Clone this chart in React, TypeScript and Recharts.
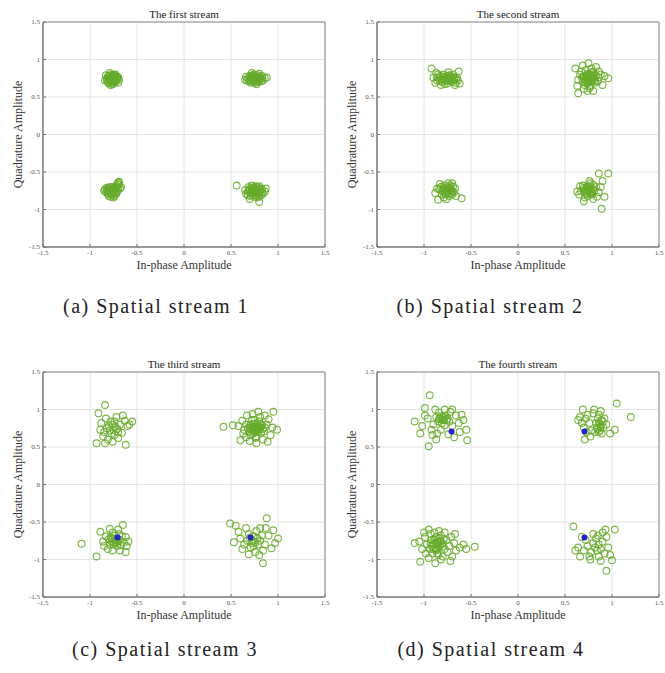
import { ScatterChart, Scatter, XAxis, YAxis, CartesianGrid, ReferenceArea } from 'recharts';

type Pt = [number, number];

const serif = "'Liberation Serif', 'Times New Roman', serif";
const axisTicks = [-1.5, -1, -0.5, 0, 0.5, 1, 1.5];
const titles = ['The first stream', 'The second stream', 'The third stream', 'The fourth stream'];
const captions = ['(a) Spatial stream 1', '(b) Spatial stream 2', '(c) Spatial stream 3', '(d) Spatial stream 4'];

// received symbols
const stream1: Pt[] = [
  [-0.80, 0.78], [-0.76, 0.80], [-0.73, 0.77], [-0.79, 0.72], [-0.75, 0.73], [-0.82, 0.75], [-0.71, 0.74], [-0.77, 0.70],
  [-0.74, 0.69], [-0.81, 0.70], [-0.78, 0.76], [-0.72, 0.71], [-0.69, 0.73], [-0.76, 0.67], [-0.83, 0.79], [-0.79, 0.82],
  [-0.74, 0.75], [-0.70, 0.69], [-0.80, 0.68], [-0.77, 0.74], [-0.73, 0.80], [-0.84, 0.72], [-0.75, 0.78], [-0.71, 0.77], [-0.78, 0.66],
  [-0.78, 0.73], [-0.76, 0.76], [-0.74, 0.72], [-0.79, 0.79], [-0.72, 0.75], [-0.81, 0.77], [-0.77, 0.71], [-0.75, 0.70],
  [-0.73, 0.74], [-0.80, 0.74], [-0.76, 0.78], [-0.82, 0.72], [-0.70, 0.76], [-0.78, 0.69], [-0.74, 0.79],
  [0.70, 0.78], [0.74, 0.80], [0.78, 0.77], [0.72, 0.72], [0.76, 0.73], [0.68, 0.75], [0.81, 0.74], [0.74, 0.70],
  [0.79, 0.70], [0.66, 0.77], [0.83, 0.78], [0.71, 0.69], [0.77, 0.67], [0.73, 0.76], [0.80, 0.81], [0.86, 0.75],
  [0.69, 0.71], [0.75, 0.77], [0.82, 0.71], [0.72, 0.82], [0.65, 0.73], [0.78, 0.74], [0.84, 0.72], [0.76, 0.69], [0.88, 0.76],
  [0.74, 0.74], [0.76, 0.76], [0.72, 0.75], [0.79, 0.76], [0.77, 0.71], [0.70, 0.73], [0.81, 0.77], [0.73, 0.79],
  [0.75, 0.71], [0.78, 0.79], [0.71, 0.76], [0.83, 0.75], [0.67, 0.72], [0.80, 0.72], [0.74, 0.78],
  [-0.80, -0.72], [-0.76, -0.70], [-0.73, -0.73], [-0.79, -0.77], [-0.75, -0.78], [-0.82, -0.74], [-0.71, -0.76], [-0.77, -0.80],
  [-0.74, -0.82], [-0.81, -0.79], [-0.78, -0.74], [-0.72, -0.70], [-0.69, -0.67], [-0.70, -0.72], [-0.84, -0.73], [-0.76, -0.75],
  [-0.73, -0.79], [-0.80, -0.82], [-0.69, -0.63], [-0.67, -0.70], [-0.83, -0.77], [-0.75, -0.73], [-0.78, -0.83], [-0.71, -0.66], [-0.85, -0.75],
  [-0.77, -0.76], [-0.75, -0.74], [-0.79, -0.74], [-0.73, -0.76], [-0.78, -0.79], [-0.81, -0.76], [-0.74, -0.71], [-0.71, -0.69],
  [-0.76, -0.81], [-0.82, -0.71], [-0.72, -0.79], [-0.79, -0.70], [-0.68, -0.72], [-0.70, -0.64], [-0.75, -0.84],
  [0.70, -0.73], [0.74, -0.71], [0.78, -0.72], [0.72, -0.78], [0.76, -0.77], [0.68, -0.76], [0.81, -0.75], [0.74, -0.81],
  [0.79, -0.80], [0.66, -0.79], [0.83, -0.73], [0.71, -0.82], [0.77, -0.84], [0.73, -0.75], [0.80, -0.69], [0.86, -0.76],
  [0.69, -0.70], [0.75, -0.74], [0.82, -0.81], [0.72, -0.68], [0.65, -0.74], [0.78, -0.78], [0.84, -0.79], [0.76, -0.69],
  [0.56, -0.68], [0.80, -0.90], [0.70, -0.86], [0.87, -0.72],
  [0.75, -0.76], [0.73, -0.73], [0.77, -0.74], [0.79, -0.77], [0.71, -0.79], [0.74, -0.78], [0.81, -0.72], [0.76, -0.81],
  [0.69, -0.74], [0.78, -0.70], [0.83, -0.77], [0.72, -0.71], [0.77, -0.82], [0.68, -0.81], [0.80, -0.83],
];

const stream2: Pt[] = [
  [-0.90, 0.76], [-0.86, 0.72], [-0.83, 0.78], [-0.80, 0.70], [-0.77, 0.76], [-0.74, 0.72], [-0.71, 0.78], [-0.68, 0.73],
  [-0.66, 0.69], [-0.88, 0.69], [-0.84, 0.74], [-0.79, 0.80], [-0.75, 0.68], [-0.72, 0.74], [-0.69, 0.80], [-0.65, 0.76],
  [-0.63, 0.84], [-0.92, 0.88], [-0.81, 0.73], [-0.76, 0.71], [-0.73, 0.79], [-0.70, 0.70], [-0.67, 0.66], [-0.85, 0.80],
  [-0.78, 0.67], [-0.64, 0.72], [-0.82, 0.66], [-0.87, 0.82], [-0.74, 0.83], [-0.62, 0.68],
  [-0.79, 0.74], [-0.75, 0.75], [-0.71, 0.72], [-0.83, 0.71], [-0.77, 0.73], [-0.73, 0.76], [-0.68, 0.76], [-0.86, 0.76],
  [-0.80, 0.77], [-0.70, 0.74], [-0.76, 0.78], [-0.66, 0.74],
  [0.70, 0.78], [0.74, 0.81], [0.78, 0.77], [0.72, 0.72], [0.76, 0.73], [0.68, 0.75], [0.81, 0.74], [0.74, 0.68],
  [0.79, 0.70], [0.66, 0.80], [0.83, 0.79], [0.71, 0.66], [0.77, 0.64], [0.73, 0.76], [0.80, 0.84], [0.86, 0.76],
  [0.69, 0.70], [0.75, 0.77], [0.82, 0.69], [0.72, 0.86], [0.64, 0.73], [0.78, 0.74], [0.85, 0.71], [0.76, 0.62],
  [0.88, 0.80], [0.75, 0.95], [0.64, 0.55], [0.96, 0.75], [0.61, 0.88], [0.80, 0.58], [0.90, 0.66], [0.67, 0.84],
  [0.83, 0.90], [0.70, 0.61], [0.78, 0.88], [0.92, 0.78], [0.63, 0.65], [0.74, 0.58], [0.86, 0.84], [0.69, 0.92],
  [0.75, 0.74], [0.73, 0.79], [0.77, 0.70], [0.79, 0.75], [0.71, 0.74], [0.76, 0.80], [0.80, 0.78], [0.72, 0.69],
  [0.78, 0.82], [0.74, 0.71], [0.69, 0.77], [0.82, 0.72],
  [-0.82, -0.70], [-0.78, -0.68], [-0.74, -0.72], [-0.80, -0.76], [-0.76, -0.77], [-0.84, -0.73], [-0.71, -0.74], [-0.77, -0.80],
  [-0.73, -0.82], [-0.81, -0.80], [-0.69, -0.69], [-0.72, -0.68], [-0.68, -0.77], [-0.86, -0.72], [-0.75, -0.75], [-0.79, -0.71],
  [-0.70, -0.80], [-0.85, -0.87], [-0.60, -0.85], [-0.88, -0.78], [-0.66, -0.82], [-0.79, -0.84], [-0.83, -0.66], [-0.74, -0.65],
  [-0.67, -0.72], [-0.76, -0.86], [-0.70, -0.65],
  [-0.76, -0.73], [-0.73, -0.75], [-0.78, -0.78], [-0.71, -0.78], [-0.75, -0.70], [-0.80, -0.74], [-0.72, -0.71], [-0.77, -0.74],
  [-0.70, -0.76], [-0.74, -0.79],
  [0.70, -0.71], [0.74, -0.69], [0.78, -0.72], [0.72, -0.78], [0.76, -0.77], [0.67, -0.75], [0.81, -0.75], [0.74, -0.82],
  [0.79, -0.80], [0.65, -0.80], [0.83, -0.70], [0.71, -0.84], [0.77, -0.65], [0.73, -0.75], [0.80, -0.67], [0.86, -0.77],
  [0.69, -0.68], [0.75, -0.73], [0.84, -0.83], [0.66, -0.69], [0.86, -0.52], [0.96, -0.52], [0.89, -0.99], [0.92, -0.83],
  [0.90, -0.62], [0.63, -0.76], [0.80, -0.86], [0.88, -0.70], [0.76, -0.62], [0.70, -0.89],
  [0.75, -0.75], [0.72, -0.73], [0.78, -0.76], [0.74, -0.71], [0.77, -0.79], [0.71, -0.76], [0.80, -0.73], [0.73, -0.79],
  [0.76, -0.69], [0.79, -0.78],
];

const stream3: Pt[] = [
  [-0.84, 1.06], [-0.93, 0.55], [-0.62, 0.53], [-0.91, 0.95], [-0.65, 0.92], [-0.55, 0.84], [-0.80, 0.78], [-0.76, 0.80],
  [-0.73, 0.77], [-0.79, 0.72], [-0.75, 0.73], [-0.82, 0.75], [-0.71, 0.74], [-0.77, 0.68], [-0.74, 0.66], [-0.85, 0.70],
  [-0.78, 0.84], [-0.70, 0.70], [-0.68, 0.80], [-0.86, 0.64], [-0.83, 0.88], [-0.72, 0.90], [-0.60, 0.78], [-0.88, 0.82],
  [-0.66, 0.69], [-0.81, 0.60], [-0.76, 0.57], [-0.89, 0.73], [-0.63, 0.85], [-0.70, 0.62], [-0.58, 0.80], [-0.84, 0.55], [-0.74, 0.84],
  [0.42, 0.77], [0.95, 0.97], [0.99, 0.73], [0.60, 0.59], [0.77, 0.55], [0.70, 0.78], [0.74, 0.81], [0.78, 0.77],
  [0.72, 0.72], [0.76, 0.73], [0.68, 0.75], [0.81, 0.74], [0.74, 0.68], [0.79, 0.70], [0.66, 0.80], [0.83, 0.79],
  [0.71, 0.66], [0.77, 0.64], [0.73, 0.76], [0.80, 0.84], [0.86, 0.76], [0.69, 0.70], [0.75, 0.77], [0.82, 0.69],
  [0.72, 0.86], [0.64, 0.73], [0.78, 0.74], [0.85, 0.71], [0.76, 0.62], [0.88, 0.80], [0.79, 0.97], [0.67, 0.92],
  [0.90, 0.87], [0.84, 0.60], [0.62, 0.85], [0.92, 0.66], [0.58, 0.78], [0.70, 0.58], [0.86, 0.92], [0.73, 0.94],
  [0.81, 0.90], [0.66, 0.63], [0.94, 0.76], [0.89, 0.57], [0.52, 0.79], [0.75, 0.86], [0.82, 0.80], [0.63, 0.68],
  [0.76, 0.75], [0.79, 0.78], [0.73, 0.73], [0.77, 0.70], [0.81, 0.76], [0.71, 0.80], [0.75, 0.72], [0.78, 0.81],
  [0.84, 0.74], [0.70, 0.75],
  [-1.09, -0.79], [-0.93, -0.96], [-0.65, -0.54], [-0.78, -0.70], [-0.74, -0.68], [-0.71, -0.72], [-0.77, -0.76], [-0.73, -0.77],
  [-0.80, -0.73], [-0.68, -0.74], [-0.75, -0.80], [-0.71, -0.82], [-0.79, -0.80], [-0.66, -0.69], [-0.69, -0.66], [-0.64, -0.77],
  [-0.83, -0.69], [-0.72, -0.75], [-0.76, -0.64], [-0.67, -0.81], [-0.81, -0.86], [-0.61, -0.82], [-0.86, -0.76], [-0.62, -0.70],
  [-0.76, -0.88], [-0.70, -0.60], [-0.89, -0.63], [-0.59, -0.76], [-0.85, -0.82], [-0.68, -0.88], [-0.62, -0.90], [-0.79, -0.59],
  [-0.74, -0.74], [-0.72, -0.78], [-0.77, -0.72], [-0.70, -0.75], [-0.75, -0.77],
  [0.88, -0.45], [0.49, -0.52], [0.84, -1.05], [1.00, -0.72], [0.95, -0.61], [0.70, -0.71], [0.74, -0.69], [0.78, -0.72],
  [0.72, -0.78], [0.76, -0.77], [0.67, -0.75], [0.81, -0.75], [0.74, -0.82], [0.79, -0.80], [0.64, -0.80], [0.83, -0.68],
  [0.71, -0.84], [0.77, -0.62], [0.73, -0.75], [0.86, -0.80], [0.69, -0.66], [0.60, -0.72], [0.84, -0.88], [0.58, -0.63],
  [0.90, -0.68], [0.66, -0.58], [0.80, -0.94], [0.93, -0.85], [0.53, -0.77], [0.76, -0.90], [0.87, -0.58], [0.62, -0.86],
  [0.97, -0.78], [0.69, -0.93], [0.81, -0.58], [0.55, -0.55],
];

const stream4: Pt[] = [
  [-0.94, 1.19], [-1.10, 0.84], [-0.95, 0.51], [-0.54, 0.59], [-0.99, 1.02], [-0.60, 0.93], [-0.55, 0.73], [-0.80, 0.90],
  [-0.77, 0.92], [-0.83, 0.88], [-0.79, 0.86], [-0.75, 0.88], [-0.85, 0.84], [-0.81, 0.82], [-0.73, 0.84], [-0.87, 0.90],
  [-0.78, 0.79], [-0.90, 0.80], [-0.84, 0.96], [-0.70, 0.78], [-0.92, 0.73], [-0.88, 1.00], [-0.66, 0.92], [-0.96, 0.88],
  [-0.72, 0.97], [-0.86, 0.68], [-0.63, 0.82], [-0.91, 0.66], [-0.78, 1.00], [-1.02, 0.78], [-0.82, 0.73], [-0.68, 0.63],
  [-0.74, 0.67], [-1.04, 0.68], [-0.62, 0.70], [-0.87, 0.60], [-0.70, 1.00], [-0.99, 0.92], [-0.58, 0.86],
  [-0.80, 0.86], [-0.78, 0.89], [-0.82, 0.91], [-0.76, 0.86], [-0.84, 0.87],
  [1.05, 1.08], [1.20, 0.90], [0.71, 0.60], [1.03, 0.73], [0.86, 0.82], [0.88, 0.78], [0.84, 0.76], [0.90, 0.84],
  [0.87, 0.72], [0.85, 0.88], [0.91, 0.76], [0.83, 0.82], [0.89, 0.68], [0.86, 0.93], [0.92, 0.88], [0.82, 0.70],
  [0.88, 0.98], [0.80, 0.95], [0.72, 0.88], [0.68, 0.82], [0.74, 0.93], [0.70, 0.76], [0.66, 0.90], [0.76, 0.82],
  [0.69, 1.00], [0.78, 0.72], [0.64, 0.86], [0.94, 0.80], [0.98, 0.68], [0.77, 0.64], [0.81, 1.00], [0.73, 0.70],
  [0.87, 0.80], [0.85, 0.74], [0.89, 0.86], [0.86, 0.70], [0.88, 0.76],
  [-0.46, -0.83], [-1.04, -1.03], [-1.10, -0.78], [-0.90, -0.80], [-0.86, -0.78], [-0.83, -0.82], [-0.88, -0.85], [-0.84, -0.76],
  [-0.92, -0.74], [-0.80, -0.79], [-0.94, -0.86], [-0.87, -0.70], [-0.78, -0.86], [-0.91, -0.92], [-0.82, -0.68], [-0.97, -0.80],
  [-0.76, -0.74], [-0.85, -0.94], [-0.99, -0.70], [-0.73, -0.82], [-0.89, -0.64], [-0.95, -0.98], [-0.71, -0.70], [-0.80, -0.96],
  [-1.02, -0.86], [-0.75, -0.90], [-0.93, -0.66], [-0.68, -0.78], [-0.84, -0.62], [-1.05, -0.76], [-0.66, -0.88], [-0.88, -1.05],
  [-0.78, -0.64], [-0.70, -0.96], [-0.98, -0.92], [-0.62, -0.84], [-0.82, -1.00], [-0.95, -0.60], [-0.72, -1.02], [-0.58, -0.80],
  [-1.00, -0.64], [-0.86, -0.86], [-0.79, -0.73], [-0.92, -0.82], [-0.67, -0.66], [-0.55, -0.86],
  [-0.88, -0.78], [-0.85, -0.82], [-0.90, -0.86], [-0.82, -0.76], [-0.87, -0.88], [-0.93, -0.78], [-0.80, -0.83], [-0.84, -0.72],
  [-0.89, -0.74], [-0.86, -0.92],
  [0.94, -1.15], [0.68, -0.70], [0.59, -0.56], [1.03, -0.60], [1.00, -1.01], [0.82, -0.84], [0.86, -0.80], [0.84, -0.88],
  [0.88, -0.86], [0.80, -0.78], [0.90, -0.76], [0.78, -0.90], [0.92, -0.92], [0.83, -0.72], [0.86, -0.96], [0.74, -0.82],
  [0.94, -0.70], [0.76, -0.96], [0.90, -0.64], [0.70, -0.88], [0.96, -0.84], [0.80, -0.66], [0.64, -0.84], [0.88, -1.02],
  [0.72, -0.74], [0.98, -0.94], [0.66, -0.96], [0.93, -0.60], [0.85, -0.68], [0.77, -1.00], [0.61, -0.88],
];

// ideal QPSK points that show through as blue dots
const ideal3: Pt[] = [[-0.707, -0.707], [0.707, -0.707]];
const ideal4: Pt[] = [[-0.707, 0.707], [0.707, 0.707], [0.707, -0.707]];

const streams = [stream1, stream2, stream3, stream4];
const ideals = [[], [], ideal3, ideal4];

// panel placement: chart box origin, caption centre
const panelLeft = [0, 334, 0, 334];
const panelTop = [0, 0, 350, 350];
const captionX = [156, 156, 165, 157];
const captionY = [306, 306, 299, 299];

const hollow = (props: any) => (
  <circle cx={props.cx} cy={props.cy} r={3.4} fill="none" stroke="#66aa2a" strokeWidth={1.1} strokeOpacity={0.85} />
);
const dot = (props: any) => <circle cx={props.cx} cy={props.cy} r={3} fill="#2424c8" />;

const yTitle = () => (
  <text x={18} y={134.5} transform="rotate(-90 18 134.5)" textAnchor="middle" dominantBaseline="central"
    style={{ fontFamily: serif, fontSize: 12 }} fill="#333">Quadrature Amplitude</text>
);
const xTitle = () => (
  <text x={184} y={269} textAnchor="middle" style={{ fontFamily: serif, fontSize: 12 }} fill="#333">In-phase Amplitude</text>
);

const tickStyle = { fontFamily: serif, fontSize: 7, fill: '#555' };

function Panel({ i }: { i: number }) {
  const pts = streams[i].map(([x, y]) => ({ x, y }));
  const ref = ideals[i].map(([x, y]) => ({ x, y }));
  return (
    <div style={{ position: 'absolute', left: panelLeft[i], top: panelTop[i], width: 334, height: 330 }}>
      <ScatterChart width={334} height={282} margin={{ top: 22, right: 9, bottom: 0, left: 0 }}>
        <CartesianGrid stroke="#e4e4e4" />
        <XAxis type="number" dataKey="x" domain={[-1.5, 1.5]} ticks={axisTicks} allowDataOverflow
          height={35} tick={tickStyle} tickSize={-3} tickMargin={6} tickLine={{ stroke: '#777' }}
          axisLine={{ stroke: '#777' }} label={{ content: xTitle }} />
        <YAxis type="number" dataKey="y" domain={[-1.5, 1.5]} ticks={axisTicks} allowDataOverflow
          width={43} tick={tickStyle} tickSize={-3} tickMargin={6} tickLine={{ stroke: '#777' }}
          axisLine={{ stroke: '#777' }} label={{ content: yTitle }} />
        <ReferenceArea x1={-1.5} x2={1.5} y1={-1.5} y2={1.5} fill="none" fillOpacity={0} stroke="#8a8a8a" strokeWidth={1} />
        <Scatter data={pts} shape={hollow} isAnimationActive={false} />
        {ref.length > 0 && <Scatter data={ref} shape={dot} isAnimationActive={false} />}
      </ScatterChart>
      <div style={{ position: 'absolute', left: 43, width: 282, top: 7, textAlign: 'center',
        fontFamily: serif, fontSize: 11, lineHeight: '14px', color: '#222' }}>{titles[i]}</div>
      <div style={{ position: 'absolute', left: captionX[i] - 150, width: 300, top: captionY[i] - 14, textAlign: 'center',
        fontFamily: serif, fontSize: 20, lineHeight: '28px', letterSpacing: 1.5, color: '#222', whiteSpace: 'nowrap' }}>
        {captions[i]}
      </div>
    </div>
  );
}

export default function App() {
  return (
    <div style={{ position: 'absolute', left: 0, top: 0, width: 665, height: 673, background: '#fff', overflow: 'hidden' }}>
      {[0, 1, 2, 3].map((i) => <Panel key={i} i={i} />)}
    </div>
  );
}
